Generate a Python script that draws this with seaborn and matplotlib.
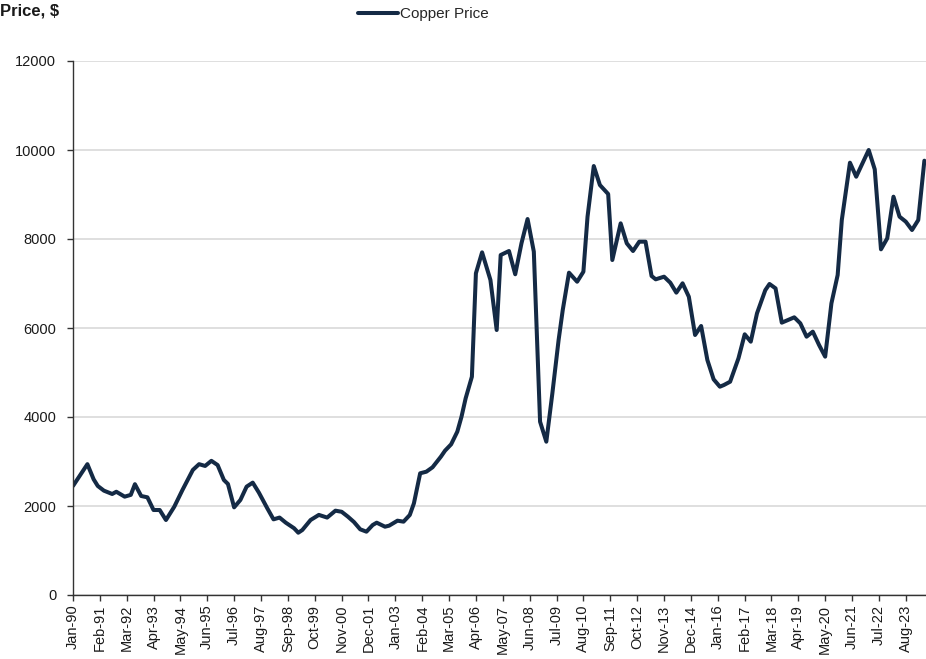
import matplotlib
matplotlib.use("Agg")
import matplotlib.pyplot as plt
import seaborn as sns
import pandas as pd

# ---- data ----
dates = [
    "1990-01", "1990-08", "1990-11", "1991-01", "1991-04", "1991-08", "1991-10",
    "1992-02", "1992-05", "1992-07", "1992-10", "1993-01", "1993-04", "1993-07",
    "1993-10", "1994-02", "1994-06", "1994-11", "1995-02", "1995-05", "1995-08",
    "1995-11", "1996-02", "1996-04", "1996-07", "1996-10", "1997-01", "1997-04",
    "1997-07", "1997-11", "1998-02", "1998-05", "1998-08", "1998-12", "1999-02",
    "1999-04", "1999-08", "1999-12", "2000-04", "2000-08", "2000-11", "2001-02",
    "2001-05", "2001-08", "2001-11", "2002-02", "2002-04", "2002-08", "2002-10",
    "2003-02", "2003-05", "2003-08", "2003-10", "2004-01", "2004-04", "2004-07",
    "2004-11", "2005-01", "2005-04", "2005-07", "2005-09", "2005-11", "2006-02",
    "2006-04", "2006-07", "2006-11", "2007-02", "2007-04", "2007-08", "2007-11",
    "2008-02", "2008-05", "2008-08", "2008-11", "2009-02", "2009-05", "2009-08",
    "2009-10", "2010-01", "2010-05", "2010-08", "2010-10", "2011-01", "2011-04",
    "2011-08", "2011-10", "2012-02", "2012-05", "2012-08", "2012-11", "2013-02",
    "2013-05", "2013-07", "2013-11", "2014-02", "2014-05", "2014-08", "2014-11",
    "2015-02", "2015-05", "2015-08", "2015-11", "2016-02", "2016-04", "2016-07",
    "2016-11", "2017-02", "2017-05", "2017-08", "2017-12", "2018-02", "2018-05",
    "2018-08", "2018-11", "2019-02", "2019-05", "2019-08", "2019-11", "2020-02",
    "2020-05", "2020-08", "2020-11", "2021-01", "2021-05", "2021-08", "2021-11",
    "2022-02", "2022-05", "2022-08", "2022-11", "2023-02", "2023-05", "2023-08",
    "2023-11", "2024-02", "2024-05",
]
prices = [
    2450, 2940, 2600, 2450, 2345, 2270, 2320,
    2210, 2250, 2490, 2225, 2195, 1910, 1910,
    1685, 1985, 2360, 2810, 2940, 2900, 3015,
    2920, 2585, 2495, 1970, 2135, 2435, 2525,
    2300, 1950, 1700, 1740, 1625, 1500, 1400,
    1460, 1685, 1800, 1740, 1895, 1870, 1760,
    1640, 1476, 1423, 1573, 1625, 1535, 1558,
    1670, 1648, 1798, 2060, 2735, 2771, 2870,
    3108, 3243, 3386, 3670, 4007, 4420, 4906,
    7229, 7700, 7079, 5955, 7640, 7730, 7207,
    7903, 8449, 7715, 3895, 3445, 4532, 5730,
    6404, 7243, 7040, 7265, 8501, 9640, 9213,
    9011, 7528, 8352, 7903, 7730, 7940, 7940,
    7169, 7094, 7153, 7018, 6794, 7004, 6703,
    5843, 6045, 5281, 4847, 4681, 4719, 4793,
    5319, 5858, 5693, 6330, 6850, 6989, 6891,
    6120, 6180, 6240, 6105, 5805, 5918, 5618,
    5356, 6554, 7191, 8427, 9715, 9400, 9700,
    10000, 9566, 7768, 8015, 8951, 8502, 8390,
    8202, 8427, 9760,
]
series_name = "Copper Price"
tick_dates = [
    "1990-01", "1991-02", "1992-03", "1993-04", "1994-05", "1995-06", "1996-07",
    "1997-08", "1998-09", "1999-10", "2000-11", "2001-12", "2003-01", "2004-02",
    "2005-03", "2006-04", "2007-05", "2008-06", "2009-07", "2010-08", "2011-09",
    "2012-10", "2013-11", "2014-12", "2016-01", "2017-02", "2018-03", "2019-04",
    "2020-05", "2021-06", "2022-07", "2023-08",
]
tick_labels = [
    "Jan-90", "Feb-91", "Mar-92", "Apr-93", "May-94", "Jun-95", "Jul-96",
    "Aug-97", "Sep-98", "Oct-99", "Nov-00", "Dec-01", "Jan-03", "Feb-04",
    "Mar-05", "Apr-06", "May-07", "Jun-08", "Jul-09", "Aug-10", "Sep-11",
    "Oct-12", "Nov-13", "Dec-14", "Jan-16", "Feb-17", "Mar-18", "Apr-19",
    "May-20", "Jun-21", "Jul-22", "Aug-23",
]
y_ticks = [0, 2000, 4000, 6000, 8000, 10000, 12000]

# ---- figure ----
sns.set_theme(style="white")
plt.rcParams["font.family"] = ["Liberation Sans", "DejaVu Sans"]

df = pd.DataFrame({"date": pd.to_datetime(dates), "price": prices})

fig = plt.figure(figsize=(9.26, 6.59), dpi=100)
ax = fig.add_axes([73 / 926, 1 - 595 / 659, 1 - 73 / 926, (595 - 61) / 659])

line_color = "#142a45"
sns.lineplot(data=df, x="date", y="price", ax=ax, color=line_color,
             linewidth=2.9, label=series_name, legend=False)

ax.set_ylim(0, 12000)
ax.set_xlim(pd.Timestamp("1990-01-01"), pd.Timestamp("2024-05-25"))
ax.set_yticks(y_ticks)
ax.set_yticklabels([str(v) for v in y_ticks], fontsize=10.5, color="#1a1a1a")
ax.set_xticks(pd.to_datetime(tick_dates))
ax.set_xticklabels(tick_labels, rotation=90, fontsize=10.5, color="#1a1a1a")
ax.set_xlabel("")
ax.set_ylabel("")

ax.grid(axis="y", color="#d9d9d9", linewidth=1.2)
ax.grid(axis="x", visible=False)
ax.set_axisbelow(True)

for side in ["top", "right"]:
    ax.spines[side].set_visible(False)
for side in ["left", "bottom"]:
    ax.spines[side].set_color("#333333")
    ax.spines[side].set_linewidth(1.0)

ax.tick_params(axis="both", which="major", direction="out", length=4,
               width=1.0, color="#333333", bottom=True, left=True)
ax.tick_params(axis="y", pad=8)
ax.tick_params(axis="x", pad=3)

fig.text(0.0, 0.995, "Price, $", fontsize=12, fontweight="bold",
         ha="left", va="top", color="#1a1a1a")

handles, labels = ax.get_legend_handles_labels()
fig.legend(handles, labels, loc="upper center", bbox_to_anchor=(0.457, 1.01),
           frameon=False, fontsize=11, handlelength=2.6, handletextpad=0.15)

fig.savefig("out.png", dpi=100)
